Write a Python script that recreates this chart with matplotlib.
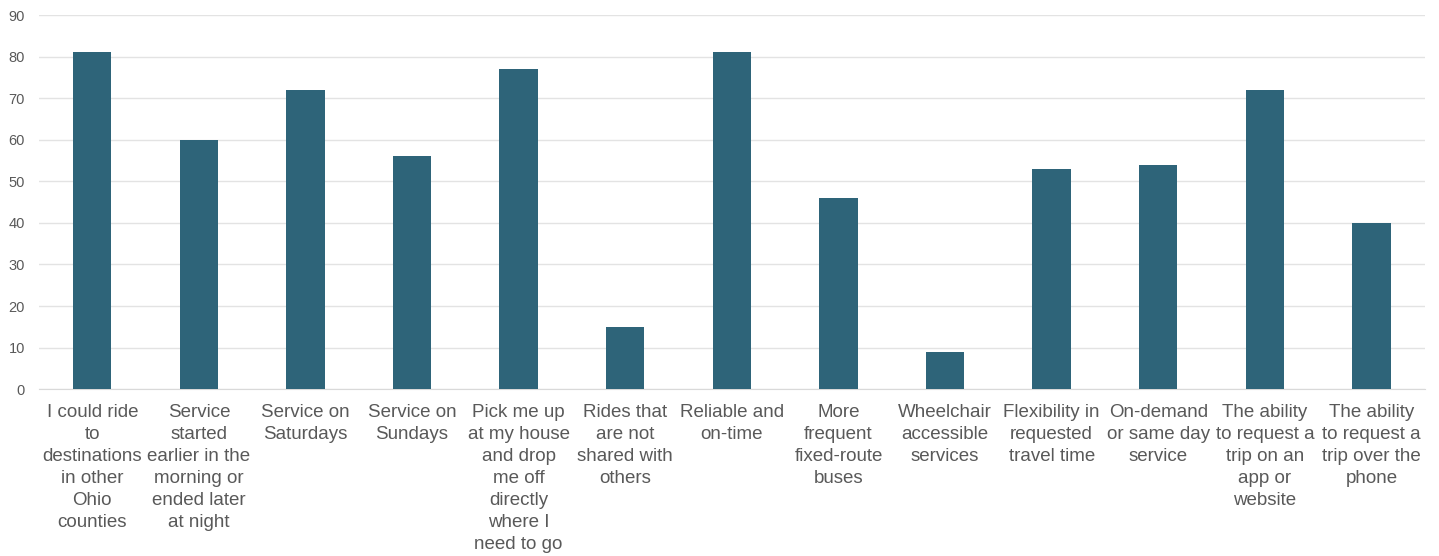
import matplotlib.pyplot as plt
import numpy as np

plt.rcParams['font.family'] = ['Liberation Sans', 'DejaVu Sans']

categories = [
    "I could ride\nto\ndestinations\nin other\nOhio\ncounties",
    "Service\nstarted\nearlier in the\nmorning or\nended later\nat night",
    "Service on\nSaturdays",
    "Service on\nSundays",
    "Pick me up\nat my house\nand drop\nme off\ndirectly\nwhere I\nneed to go",
    "Rides that\nare not\nshared with\nothers",
    "Reliable and\non-time",
    "More\nfrequent\nfixed-route\nbuses",
    "Wheelchair\naccessible\nservices",
    "Flexibility in\nrequested\ntravel time",
    "On-demand\nor same day\nservice",
    "The ability\nto request a\ntrip on an\napp or\nwebsite",
    "The ability\nto request a\ntrip over the\nphone",
]
values = [81, 60, 72, 56, 77, 15, 81, 46, 9, 53, 54, 72, 40]

fig = plt.figure(figsize=(14.39, 5.56), dpi=100)
ax = fig.add_axes([0.0271, 0.300, 0.963, 0.673])

x = np.arange(len(categories))
ax.bar(x, values, width=0.36, color='#2E6479', zorder=3)

ax.set_xlim(-0.5, len(categories) - 0.5)
ax.set_ylim(0, 90)
ax.set_yticks(np.arange(0, 91, 10))
ax.grid(True, axis='y', color='#E3E3E3', linewidth=1, zorder=0)
ax.set_xticks(x)
ax.set_xticklabels(categories, fontsize=13.5, color='#595959', linespacing=1.38)
ax.tick_params(axis='x', length=0, pad=11)
ax.tick_params(axis='y', length=0, labelsize=10.5, colors='#595959', pad=10)
for s in ['top', 'right', 'left']:
    ax.spines[s].set_visible(False)
ax.spines['bottom'].set_color('#D9D9D9')

fig.savefig("out.png", dpi=100)
